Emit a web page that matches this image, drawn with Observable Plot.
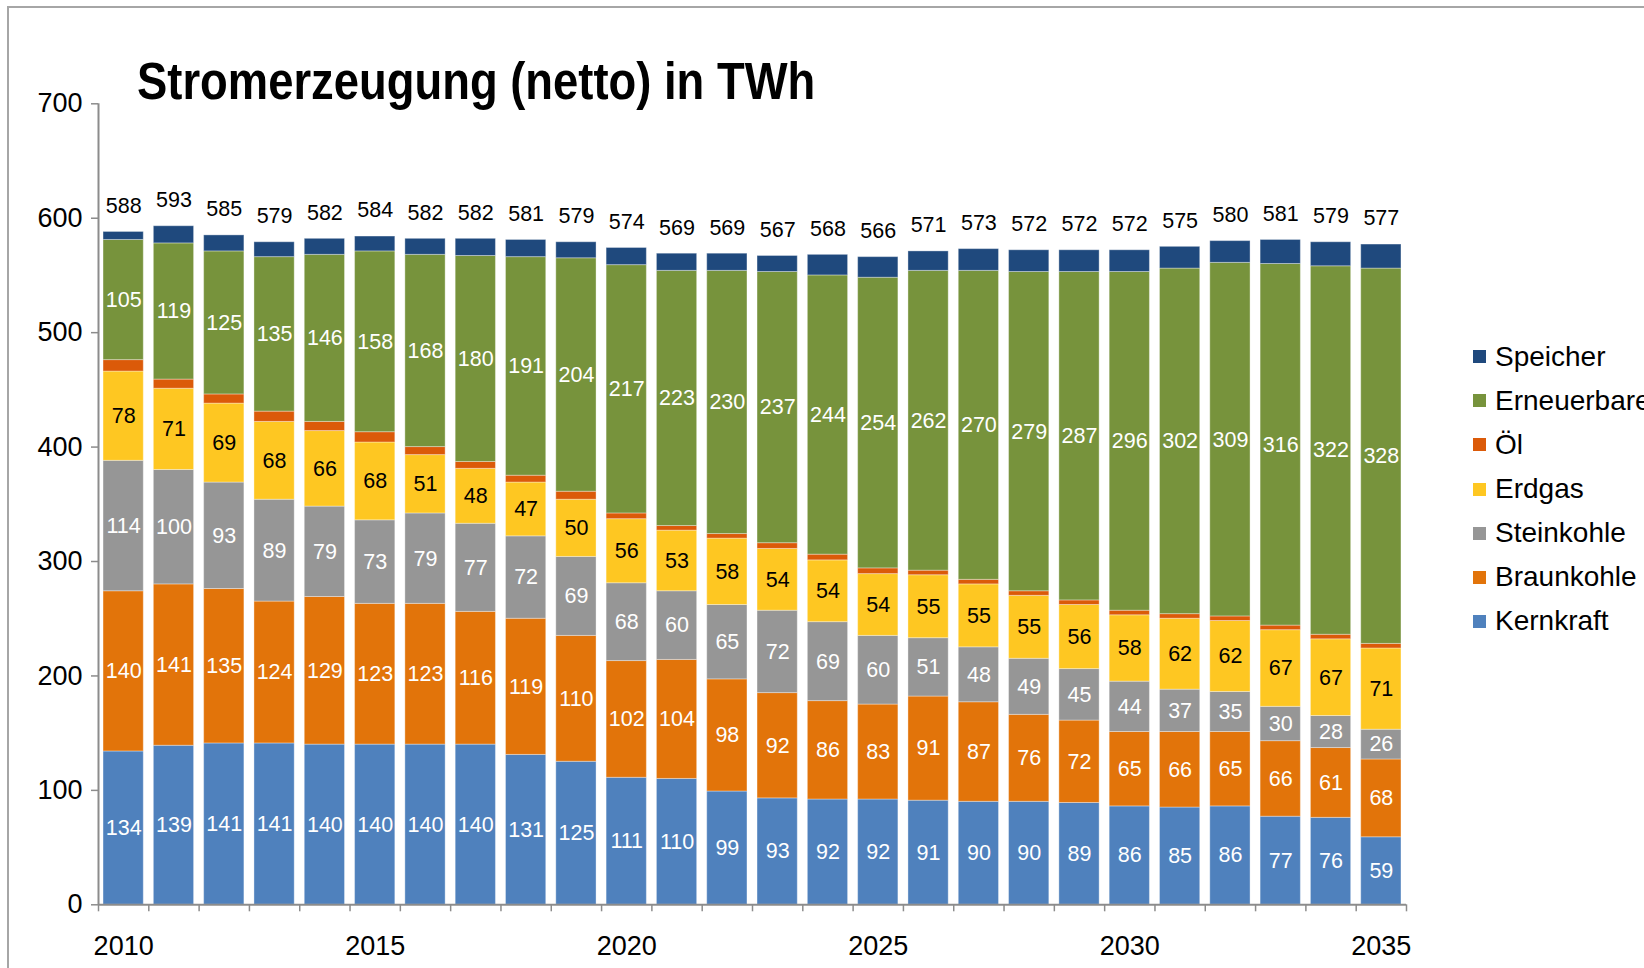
<!DOCTYPE html>
<html><head><meta charset="utf-8">
<script src="https://cdn.jsdelivr.net/npm/d3@7"></script>
<script src="https://cdn.jsdelivr.net/npm/@observablehq/plot@0.6"></script>
<style>
html,body{margin:0;padding:0;background:#fff;overflow:hidden;width:1644px;height:968px;}
#frame{position:absolute;left:7px;top:6px;width:3000px;height:3000px;border-left:2px solid #a6a6a6;border-top:2px solid #a6a6a6;}
#chart{position:absolute;left:0;top:0;}
#title{position:absolute;left:137px;top:56px;font:bold 51px/51px "Liberation Sans",Arial,sans-serif;transform:scaleX(0.89);transform-origin:0 0;white-space:nowrap;color:#000;}
#legend{position:absolute;left:1473px;top:0;font:28px "Liberation Sans",Arial,sans-serif;color:#000;}
.item{position:absolute;left:0;white-space:nowrap;height:30px;line-height:30px;}
.sw{position:absolute;left:0;top:8.5px;width:13px;height:13px;}
.lbl{position:absolute;left:22px;top:0;}
</style>
</head><body>
<div id="frame"></div>
<div id="chart"></div>
<div id="title">Stromerzeugung (netto) in TWh</div>
<div id="legend"></div>
<script>
const years = [2010,2011,2012,2013,2014,2015,2016,2017,2018,2019,2020,2021,2022,2023,2024,2025,2026,2027,2028,2029,2030,2031,2032,2033,2034,2035];
const kernkraft   = [134,139,141,141,140,140,140,140,131,125,111,110,99,93,92,92,91,90,90,89,86,85,86,77,76,59];
const braunkohle  = [140,141,135,124,129,123,123,116,119,110,102,104,98,92,86,83,91,87,76,72,65,66,65,66,61,68];
const steinkohle  = [114,100,93,89,79,73,79,77,72,69,68,60,65,72,69,60,51,48,49,45,44,37,35,30,28,26];
const erdgas      = [78,71,69,68,66,68,51,48,47,50,56,53,58,54,54,54,55,55,55,56,58,62,62,67,67,71];
const oel         = [10,8,8,9,8,9,7,6,6,7,5,4,4,5,5,5,4,4,4,4,4,4,4,4,4,4];
const erneuerbare = [105,119,125,135,146,158,168,180,191,204,217,223,230,237,244,254,262,270,279,287,296,302,309,316,322,328];
const speicher    = [7,15,14,13,14,13,14,15,15,14,15,15,15,14,18,18,17,19,19,19,19,19,19,21,21,21];
const totals      = [588,593,585,579,582,584,582,582,581,579,574,569,569,567,568,566,571,573,572,572,572,575,580,581,579,577];
const yTicks = [0,100,200,300,400,500,600,700];
const xTickLabels = [2010,2015,2020,2025,2030,2035];

const series = [
  {name: "Kernkraft",   values: kernkraft,   color: "#4F81BD", label: "white"},
  {name: "Braunkohle",  values: braunkohle,  color: "#E2740A", label: "white"},
  {name: "Steinkohle",  values: steinkohle,  color: "#969696", label: "white"},
  {name: "Erdgas",      values: erdgas,      color: "#FEC722", label: "black"},
  {name: "Öl",          values: oel,         color: "#DB5A09", label: null},
  {name: "Erneuerbare", values: erneuerbare, color: "#77933C", label: "white"},
  {name: "Speicher",    values: speicher,    color: "#1F497D", label: null}
];

const table = [];
series.forEach(s => years.forEach((y, i) => table.push({year: y, source: s.name, value: s.values[i], label: s.label})));

const boundaries = years.map(y => y - 0.5).concat([years[years.length - 1] + 0.5]);
const font = '"Liberation Sans", Arial, sans-serif';

const chart = Plot.plot({
  width: 1644,
  height: 968,
  marginLeft: 98,
  marginRight: 238,
  marginTop: 103.3,
  marginBottom: 63.7,
  style: {fontFamily: font, background: "transparent", color: "black", overflow: "visible"},
  x: {type: "linear", domain: [boundaries[0], boundaries[boundaries.length - 1]], axis: null},
  y: {domain: [0, 700], axis: null},
  color: {domain: series.map(s => s.name), range: series.map(s => s.color)},
  marks: [
    Plot.rectY(table, {
      x1: d => d.year - 0.4, x2: d => d.year + 0.4, y: "value", fill: "source",
      stroke: "#ffffff", strokeOpacity: 0.35, strokeWidth: 1
    }),
    Plot.text(table, Plot.stackY({
      x: "year", y: "value",
      text: d => d.label === "white" ? String(d.value) : null,
      fill: "white", fontSize: 21.5
    })),
    Plot.text(table, Plot.stackY({
      x: "year", y: "value",
      text: d => d.label === "black" ? String(d.value) : null,
      fill: "black", fontSize: 21.5
    })),
    Plot.text(years, {
      x: d => d, y: (d, i) => totals[i], text: (d, i) => String(totals[i]),
      dy: -26, fill: "black", fontSize: 21.5
    }),
    Plot.ruleX([boundaries[0]], {stroke: "#8c8c8c", strokeWidth: 2}),
    Plot.ruleY([0], {stroke: "#8c8c8c", strokeWidth: 2}),
    Plot.axisY({ticks: yTicks, tickSize: 7, tickPadding: 9, fontSize: 27, stroke: "#8c8c8c", strokeWidth: 1.5, fill: "black", label: null, tickFormat: d => String(d)}),
    Plot.axisX({ticks: boundaries, tickSize: 7, tickFormat: () => "", stroke: "#8c8c8c", strokeWidth: 1.5, label: null}),
    Plot.axisX({ticks: xTickLabels, tickSize: 0, tickPadding: 31, fontSize: 27, fill: "black", label: null, tickFormat: d => String(d)})
  ]
});
document.getElementById("chart").appendChild(chart);

const legend = document.getElementById("legend");
series.slice().reverse().forEach((s, i) => {
  const item = document.createElement("div");
  item.className = "item";
  item.style.top = (356.7 + i * 44.1 - 15) + "px";
  const sw = document.createElement("div");
  sw.className = "sw";
  sw.style.background = s.color;
  const lbl = document.createElement("div");
  lbl.className = "lbl";
  lbl.textContent = s.name;
  item.appendChild(sw);
  item.appendChild(lbl);
  legend.appendChild(item);
});
</script>
</body></html>
